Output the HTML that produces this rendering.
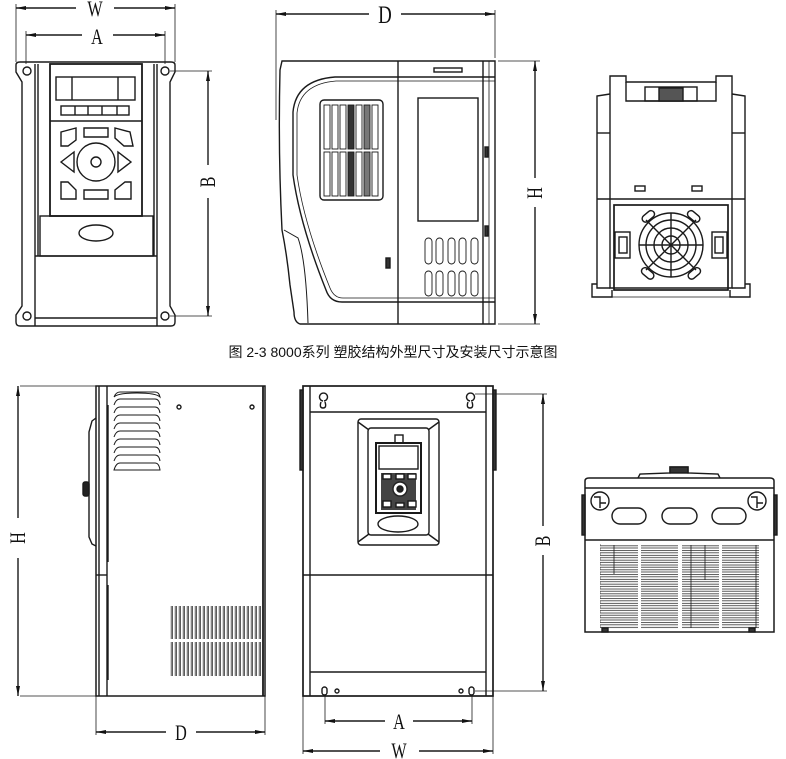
<!DOCTYPE html>
<html><head><meta charset="utf-8"><style>
html,body{margin:0;padding:0;background:#fff;}
svg{display:block}
text{font-family:"Liberation Serif",serif;fill:#111}
</style></head><body>
<svg width="786" height="759" viewBox="0 0 786 759" xmlns="http://www.w3.org/2000/svg">
<defs>
<marker id="ar" viewBox="0 0 10 6" refX="10" refY="3" markerWidth="10" markerHeight="6" orient="auto-start-reverse" markerUnits="userSpaceOnUse"><path d="M0,1 L10,3 L0,5 z" fill="#111"/></marker>
<pattern id="hstr" width="40" height="4.8" patternUnits="userSpaceOnUse"><rect x="0" y="0.8" width="40" height="2.6" fill="none" stroke="#333" stroke-width="0.8"/></pattern>
<pattern id="vstr" width="4" height="40" patternUnits="userSpaceOnUse"><rect x="0.6" y="0" width="2.6" height="40" fill="none" stroke="#333" stroke-width="0.8"/></pattern>
</defs>
<g fill="none" stroke="#1a1a1a" stroke-width="1.4">

<!-- ===== TOP LEFT FRONT VIEW ===== -->
<line x1="16" y1="8" x2="76" y2="8" marker-start="url(#ar)"/><line x1="114" y1="8" x2="175" y2="8" marker-end="url(#ar)"/>
<line x1="16" y1="4" x2="16" y2="62" stroke-width="0.8"/><line x1="175" y1="4" x2="175" y2="62" stroke-width="0.8"/>
<line x1="26" y1="35" x2="82" y2="35" marker-start="url(#ar)"/><line x1="113" y1="35" x2="165" y2="35" marker-end="url(#ar)"/>
<line x1="26" y1="31" x2="26" y2="64" stroke-width="0.8"/><line x1="165" y1="31" x2="165" y2="64" stroke-width="0.8"/>
<path d="M16,65 Q16,62 20,62 L171,62 Q175,62 175,65 L175,72 L170,82 L170,306 L175,315 L175,322 Q175,326 171,326 L20,326 Q16,326 16,322 L16,315 L22,306 L22,82 L16,72 Z"/>
<circle cx="27" cy="71" r="4"/><circle cx="165" cy="71" r="4"/><circle cx="27" cy="316" r="4"/><circle cx="165" cy="316" r="4"/>
<line x1="35" y1="64" x2="35" y2="326"/><line x1="157" y1="64" x2="157" y2="326"/>
<line x1="38" y1="64" x2="38" y2="256"/><line x1="154" y1="64" x2="154" y2="256"/>
<rect x="50" y="64" width="92" height="152" stroke-width="1.8"/>
<rect x="56" y="77" width="79" height="23"/><line x1="72" y1="77" x2="72" y2="100"/><line x1="118" y1="77" x2="118" y2="100"/>
<rect x="61" y="106" width="68" height="9"/><line x1="75" y1="106" x2="75" y2="115"/><line x1="88" y1="106" x2="88" y2="115"/><line x1="102" y1="106" x2="102" y2="115"/><line x1="117" y1="106" x2="117" y2="115"/>
<line x1="50" y1="121" x2="142" y2="121"/>
<circle cx="96" cy="162" r="19"/><circle cx="96" cy="162" r="5"/>
<path d="M61,162 L74,152 L74,172 Z"/><path d="M131,162 L118,152 L118,172 Z"/>
<path d="M61,132 L76,128 L76,140 L68,146 L61,146 Z"/><path d="M84,128 L108,128 L108,137 L84,137 Z"/><path d="M115,128 L130,132 L133,146 L124,146 L115,138 Z"/>
<path d="M61,182 L68,182 L76,190 L76,199 L61,199 Z"/><path d="M84,190 L108,190 L108,199 L84,199 Z"/><path d="M125,182 L131,182 L131,199 L115,199 L115,190 Z"/>
<rect x="40" y="216" width="113" height="40"/>
<ellipse cx="96" cy="233" rx="17" ry="8"/>
<line x1="35" y1="256" x2="157" y2="256"/><line x1="35" y1="318" x2="157" y2="318"/>
<line x1="170" y1="71" x2="212" y2="71" stroke-width="0.8"/><line x1="170" y1="316" x2="212" y2="316" stroke-width="0.8"/>
<line x1="208" y1="71" x2="208" y2="165" marker-start="url(#ar)"/><line x1="208" y1="198" x2="208" y2="316" marker-end="url(#ar)"/>

<!-- ===== TOP MIDDLE SIDE VIEW ===== -->
<line x1="276" y1="14" x2="369" y2="14" marker-start="url(#ar)"/><line x1="401" y1="14" x2="495" y2="14" marker-end="url(#ar)"/>
<line x1="276" y1="10" x2="276" y2="120" stroke-width="0.8"/><line x1="495" y1="10" x2="495" y2="58" stroke-width="0.8"/>
<path d="M282,61 L495,61 L495,324 L300,324 Q294,322 294,312 L290,285 Q287,255 282,230 Q278,150 280,70 Z"/>
<path d="M284,230 L298,238 Q306,260 308,323" stroke-width="1"/>
<path d="M495,77 L335,77 Q296,80 293,112 L293,175 Q300,225 326,290 Q330,302 342,302 L495,302"/>
<path d="M495,81 L336,81 Q300,84 297,113 L297,175 Q304,224 330,288 Q334,298 343,298 L495,298" stroke-width="0.8"/>
<line x1="398" y1="61" x2="398" y2="324"/>
<rect x="434" y="68" width="28" height="4"/>
<line x1="483" y1="61" x2="483" y2="324"/><line x1="489" y1="61" x2="489" y2="324" stroke-width="0.8"/>
<rect x="320" y="100" width="63" height="100" rx="4"/>
<g stroke-width="0.9">
<rect x="324" y="105" width="6" height="44"/><rect x="332" y="105" width="6" height="44"/><rect x="340" y="105" width="6" height="44"/><rect x="348" y="105" width="6" height="44" fill="#333"/><rect x="356" y="105" width="6" height="44"/><rect x="364" y="105" width="6" height="44" fill="#777"/><rect x="372" y="105" width="6" height="44"/>
<rect x="324" y="152" width="6" height="44"/><rect x="332" y="152" width="6" height="44"/><rect x="340" y="152" width="6" height="44"/><rect x="348" y="152" width="6" height="44" fill="#333"/><rect x="356" y="152" width="6" height="44"/><rect x="364" y="152" width="6" height="44" fill="#777"/><rect x="372" y="152" width="6" height="44"/>
</g>
<rect x="418" y="98" width="60" height="123"/>
<rect x="485" y="147" width="3" height="10" fill="#333"/><rect x="485" y="226" width="3" height="10" fill="#333"/><rect x="386" y="258" width="4" height="10" fill="#333"/>
<g stroke-width="0.9">
<rect x="425" y="238" width="7" height="26" rx="3.5"/><rect x="436" y="238" width="7" height="26" rx="3.5"/><rect x="448" y="238" width="7" height="26" rx="3.5"/><rect x="459" y="238" width="7" height="26" rx="3.5"/><rect x="471" y="238" width="7" height="26" rx="3.5"/>
<rect x="425" y="271" width="7" height="25" rx="3.5"/><rect x="436" y="271" width="7" height="25" rx="3.5"/><rect x="448" y="271" width="7" height="25" rx="3.5"/><rect x="459" y="271" width="7" height="25" rx="3.5"/><rect x="471" y="271" width="7" height="25" rx="3.5"/>
</g>
<line x1="498" y1="61" x2="540" y2="61" stroke-width="0.8"/><line x1="498" y1="324" x2="540" y2="324" stroke-width="0.8"/>
<line x1="535" y1="61" x2="535" y2="178" marker-start="url(#ar)"/><line x1="535" y1="207" x2="535" y2="324" marker-end="url(#ar)"/>

<!-- ===== TOP RIGHT VIEW ===== -->
<path d="M610,76 L626,76 L626,82 L716,82 L716,76 L732,76 L732,288 L610,288 Z"/>
<path d="M626,82 L626,101 L716,101 L716,82"/>
<rect x="645" y="87" width="52" height="14"/><rect x="659" y="88" width="24" height="13" fill="#555"/>
<path d="M610,94 L597,96 L597,288 L610,288"/><path d="M732,94 L745,96 L745,288 L732,288"/>
<line x1="597" y1="133" x2="610" y2="133"/><line x1="732" y1="133" x2="745" y2="133"/>
<line x1="597" y1="199" x2="745" y2="199"/>
<rect x="635" y="186" width="10" height="5"/><rect x="692" y="186" width="10" height="5"/>
<rect x="614" y="205" width="114" height="85" stroke-width="1.7"/>
<circle cx="671" cy="245" r="32"/><circle cx="671" cy="245" r="25"/><circle cx="671" cy="245" r="17"/><circle cx="671" cy="245" r="9"/>
<line x1="646" y1="220" x2="696" y2="270"/><line x1="696" y1="220" x2="646" y2="270"/><line x1="671" y1="213" x2="671" y2="277"/><line x1="639" y1="245" x2="703" y2="245"/>
<rect x="641" y="213" width="14" height="7" rx="3.5" transform="rotate(-40 648 216)"/><rect x="687" y="213" width="14" height="7" rx="3.5" transform="rotate(40 694 216)"/>
<rect x="641" y="270" width="14" height="7" rx="3.5" transform="rotate(40 648 273)"/><rect x="687" y="270" width="14" height="7" rx="3.5" transform="rotate(-40 694 273)"/>
<rect x="615" y="232" width="15" height="26"/><rect x="619" y="237" width="8" height="16"/>
<rect x="712" y="232" width="15" height="26"/><rect x="715" y="237" width="8" height="16"/>
<path d="M597,284 L592,284 L592,297 L612,297 L612,290"/><path d="M745,284 L750,284 L750,297 L730,297 L730,290"/>
<line x1="612" y1="297" x2="730" y2="297" stroke-width="0.8"/>
</g>

<text x="393" y="357" text-anchor="middle" style="font-family:'Liberation Sans','Noto Sans CJK SC',sans-serif;font-size:14px">图 2-3 8000系列 塑胶结构外型尺寸及安装尺寸示意图</text>

<g fill="none" stroke="#1a1a1a" stroke-width="1.4">
<!-- ===== BOTTOM LEFT SIDE VIEW ===== -->
<rect x="96" y="386" width="169" height="310" stroke-width="1.5"/>
<line x1="99" y1="386" x2="99" y2="696"/><line x1="107" y1="386" x2="107" y2="696"/><line x1="263" y1="386" x2="263" y2="696" stroke-width="1.8"/>
<line x1="108" y1="405" x2="108" y2="562"/><line x1="108" y1="585" x2="108" y2="680"/><line x1="96" y1="575" x2="107" y2="575"/>
<path d="M96,418 L92,421 L89,432 L89,537 L92,544 L96,546"/>
<rect x="83" y="482" width="6" height="14" rx="2" fill="#222"/>
<g stroke-width="1">
<path d="M114,397 Q116,392 120,392 L155,392 Q159,392 160,397 Q156,393 137,393 Q118,393 114,397"/>
<path d="M114,405 Q116,399 120,399 L155,399 Q159,399 160,405"/><path d="M114,413 Q116,407 120,407 L155,407 Q159,407 160,413"/><path d="M114,421 Q116,415 120,415 L155,415 Q159,415 160,421"/><path d="M114,429 Q116,423 120,423 L155,423 Q159,423 160,429"/><path d="M114,437 Q116,431 120,431 L155,431 Q159,431 160,437"/><path d="M114,445 Q116,439 120,439 L155,439 Q159,439 160,445"/><path d="M114,453 Q116,447 120,447 L155,447 Q159,447 160,453"/><path d="M114,461 Q116,455 120,455 L155,455 Q159,455 160,461"/><path d="M114,470 Q116,463 120,463 L155,463 Q159,463 160,470 Z"/>
</g>
<circle cx="179" cy="407" r="2"/><circle cx="252" cy="407" r="2"/>
<rect x="170" y="606" width="92" height="33" fill="url(#vstr)" stroke="none"/>
<rect x="170" y="642" width="92" height="34" fill="url(#vstr)" stroke="none"/>
<line x1="20" y1="386" x2="96" y2="386" stroke-width="0.8"/><line x1="20" y1="696" x2="96" y2="696" stroke-width="0.8"/>
<line x1="18" y1="386" x2="18" y2="518" marker-start="url(#ar)"/><line x1="18" y1="558" x2="18" y2="696" marker-end="url(#ar)"/>
<line x1="96" y1="696" x2="96" y2="735" stroke-width="0.8"/><line x1="265" y1="696" x2="265" y2="735" stroke-width="0.8"/>
<line x1="96" y1="732" x2="166" y2="732" marker-start="url(#ar)"/><line x1="196" y1="732" x2="265" y2="732" marker-end="url(#ar)"/>

<!-- ===== BOTTOM MIDDLE FRONT VIEW ===== -->
<rect x="303" y="386" width="190" height="310" stroke-width="1.7"/>
<line x1="310" y1="386" x2="310" y2="696"/><line x1="486" y1="386" x2="486" y2="696"/>
<rect x="300" y="390" width="3" height="80" fill="#333"/><rect x="493" y="390" width="3" height="80" fill="#333"/>
<line x1="310" y1="412" x2="486" y2="412"/><line x1="303" y1="575" x2="493" y2="575"/><line x1="310" y1="672" x2="486" y2="672"/>
<path d="M323,401 A4,4 0 1 1 324,401 M321,402 Q319,408 323,408 Q327,408 325,402" />
<path d="M470,401 A4,4 0 1 1 471,401 M468,402 Q466,408 470,408 Q474,408 472,402"/>
<rect x="358" y="419" width="81" height="126" rx="3"/>
<rect x="368" y="428" width="61" height="107" rx="3"/>
<line x1="358" y1="422" x2="369" y2="430"/><line x1="439" y1="422" x2="428" y2="430"/><line x1="358" y1="542" x2="369" y2="534"/><line x1="439" y1="542" x2="428" y2="534"/>
<rect x="376" y="443" width="45" height="70" stroke-width="2"/>
<rect x="395" y="435" width="8" height="8"/>
<rect x="379" y="446" width="39" height="23"/>
<rect x="381" y="473" width="35" height="37" fill="#444" stroke="none"/>
<circle cx="400" cy="489" r="7" fill="#fff" stroke="#222"/><circle cx="400" cy="489" r="3" fill="#222"/>
<rect x="383" y="474" width="8" height="5" fill="#fff"/><rect x="396" y="474" width="8" height="5" fill="#fff"/><rect x="408" y="474" width="8" height="5" fill="#fff"/>
<rect x="383" y="501" width="8" height="6" fill="#fff"/><rect x="396" y="503" width="8" height="4" fill="#fff"/><rect x="408" y="501" width="8" height="6" fill="#fff"/>
<ellipse cx="398" cy="524" rx="20" ry="8"/>
<rect x="322" y="687" width="5" height="8" rx="2.5"/><rect x="469" y="687" width="5" height="8" rx="2.5"/>
<circle cx="337" cy="691" r="2"/><circle cx="461" cy="691" r="2"/>
<line x1="475" y1="394" x2="547" y2="394" stroke-width="0.8"/><line x1="475" y1="691" x2="547" y2="691" stroke-width="0.8"/>
<line x1="543" y1="394" x2="543" y2="526" marker-start="url(#ar)"/><line x1="543" y1="555" x2="543" y2="691" marker-end="url(#ar)"/>
<line x1="325" y1="695" x2="325" y2="724" stroke-width="0.8"/><line x1="472" y1="695" x2="472" y2="724" stroke-width="0.8"/>
<line x1="325" y1="721" x2="385" y2="721" marker-start="url(#ar)"/><line x1="413" y1="721" x2="472" y2="721" marker-end="url(#ar)"/>
<line x1="303" y1="696" x2="303" y2="754" stroke-width="0.8"/><line x1="493" y1="696" x2="493" y2="754" stroke-width="0.8"/>
<line x1="303" y1="751" x2="380" y2="751" marker-start="url(#ar)"/><line x1="419" y1="751" x2="493" y2="751" marker-end="url(#ar)"/>

<!-- ===== BOTTOM RIGHT TOP VIEW ===== -->
<path d="M638,478 L640,474 L670,473 L670,467 L688,467 L688,473 L718,474 L720,478"/>
<rect x="670" y="467" width="18" height="6" fill="#333"/>
<path d="M585,481 Q585,478 589,478 L770,478 Q774,478 774,481 L774,632 L585,632 Z" stroke-width="1.5"/>
<line x1="585" y1="488" x2="774" y2="488"/><line x1="585" y1="540" x2="774" y2="540"/>
<rect x="582" y="495" width="3" height="40" fill="#333"/><rect x="774" y="495" width="3" height="40" fill="#333"/>
<circle cx="600" cy="501" r="9"/><path d="M594,497 L600,497 L600,503 L606,503 M600,503 L600,508"/>
<circle cx="757" cy="501" r="9"/><path d="M751,497 L757,497 L757,503 L763,503 M757,503 L757,508"/>
<rect x="612" y="508" width="34" height="16" rx="8"/><rect x="662" y="508" width="35" height="16" rx="8"/><rect x="712" y="508" width="34" height="16" rx="8"/>
<rect x="600" y="544" width="38" height="85" fill="url(#hstr)" stroke="none"/>
<rect x="641" y="544" width="37" height="85" fill="url(#hstr)" stroke="none"/>
<rect x="682" y="544" width="37" height="85" fill="url(#hstr)" stroke="none"/>
<rect x="722" y="544" width="37" height="85" fill="url(#hstr)" stroke="none"/>
<line x1="614" y1="545" x2="614" y2="574" stroke-width="0.8"/><line x1="691" y1="545" x2="691" y2="628" stroke-width="0.8"/><line x1="705" y1="545" x2="705" y2="580" stroke-width="0.8"/><line x1="756" y1="545" x2="756" y2="628" stroke-width="0.8"/>
<rect x="602" y="628" width="6" height="4" fill="#333"/><rect x="749" y="628" width="6" height="4" fill="#333"/>
</g>

<g font-size="19">
<text transform="translate(95,16) scale(0.85,1.15)" text-anchor="middle">W</text>
<text transform="translate(97,44) scale(0.85,1.15)" text-anchor="middle">A</text>
<text transform="translate(385,23) scale(0.9,1.2)" text-anchor="middle" font-size="21">D</text>
<text transform="translate(215,182) rotate(-90) scale(0.85,1.15)" text-anchor="middle">B</text>
<text transform="translate(542,193) rotate(-90) scale(0.85,1.15)" text-anchor="middle">H</text>
<text transform="translate(25,538) rotate(-90) scale(0.85,1.15)" text-anchor="middle">H</text>
<text transform="translate(181,740) scale(0.85,1.15)" text-anchor="middle">D</text>
<text transform="translate(399,729) scale(0.85,1.15)" text-anchor="middle">A</text>
<text transform="translate(399,758) scale(0.85,1.15)" text-anchor="middle">W</text>
<text transform="translate(550,541) rotate(-90) scale(0.85,1.15)" text-anchor="middle">B</text>
</g>
</svg>
</body></html>
